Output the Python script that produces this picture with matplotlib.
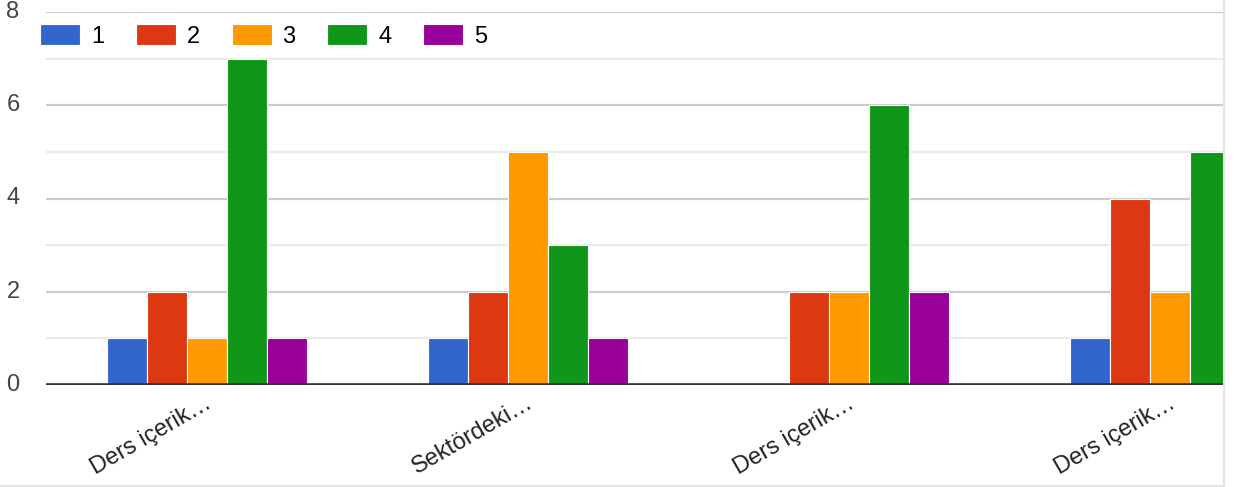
import numpy as np
import matplotlib
matplotlib.use("Agg")
import matplotlib.pyplot as plt
import matplotlib.transforms as mtransforms
from matplotlib.lines import Line2D

matplotlib.rcParams['font.family'] = ['Liberation Sans', 'DejaVu Sans']

categories = ["Ders içerik…", "Sektördeki…", "Ders içerik…", "Ders içerik…"]
series_names = ["1", "2", "3", "4", "5"]
series_colors = ["#3366cc", "#dc3912", "#ff9900", "#109618", "#990099"]
vals_1 = [1, 1, 0, 1]
vals_2 = [2, 2, 2, 4]
vals_3 = [1, 5, 2, 2]
vals_4 = [7, 3, 6, 5]
vals_5 = [1, 1, 2, 0]  # last one is cut off in the reference
series = [vals_1, vals_2, vals_3, vals_4, vals_5]


def main():
    fig = plt.figure(figsize=(12.35, 4.87), dpi=100)
    ax = fig.add_axes([46 / 1235, 102 / 487, (1223 - 46) / 1235, 373 / 487])

    x = np.arange(len(categories))
    bw = 0.1246
    for i, (name, vals) in enumerate(zip(series_names, series)):
        ax.bar(x + (i - 2) * bw, vals, width=bw, color=series_colors[i],
               edgecolor="white", linewidth=0.8, label=name, zorder=3)

    ax.set_xlim(-0.5, (1223 - 207) / 321)
    ax.set_ylim(0, 8)
    ax.set_yticks([0, 2, 4, 6, 8])
    ax.set_yticks([1, 3, 5, 7], minor=True)
    ax.grid(axis="y", which="major", color="#cccccc", linewidth=1.6, zorder=0)
    ax.grid(axis="y", which="minor", color="#ebebeb", linewidth=1.6, zorder=0)
    ax.axhline(0, color="#333333", linewidth=2.6, zorder=4)
    for s in ax.spines.values():
        s.set_visible(False)
    ax.tick_params(axis="y", which="both", length=0, pad=19, labelsize=17, labelcolor="#444444")
    ax.tick_params(axis="x", length=0, pad=5)
    ax.set_xticks(x)
    ax.set_xticklabels(categories, rotation=30, ha="right", rotation_mode="anchor",
                       fontsize=17, color="#222222")
    shift = mtransforms.ScaledTranslation(-2 / 100, 0, fig.dpi_scale_trans)
    for lbl in ax.get_xticklabels():
        lbl.set_transform(lbl.get_transform() + shift)
    for lbl in ax.get_yticklabels():
        lbl.set_verticalalignment("center")

    fig.legend(loc="center left", bbox_to_anchor=(40 / 1235, 1 - 36 / 487), ncol=5,
               frameon=False, fontsize=17, handlelength=1.7, handleheight=0.95,
               handletextpad=0.45, columnspacing=1.35, borderaxespad=0, borderpad=0)

    fig.add_artist(Line2D([1223.5 / 1235] * 2, [0, 1], color="#e5e5e5", linewidth=1.5))
    fig.add_artist(Line2D([0, 1223.5 / 1235], [1.5 / 487] * 2, color="#e5e5e5", linewidth=1.5))

    fig.savefig("out.png", dpi=100)


if __name__ == '__main__':
    main()
